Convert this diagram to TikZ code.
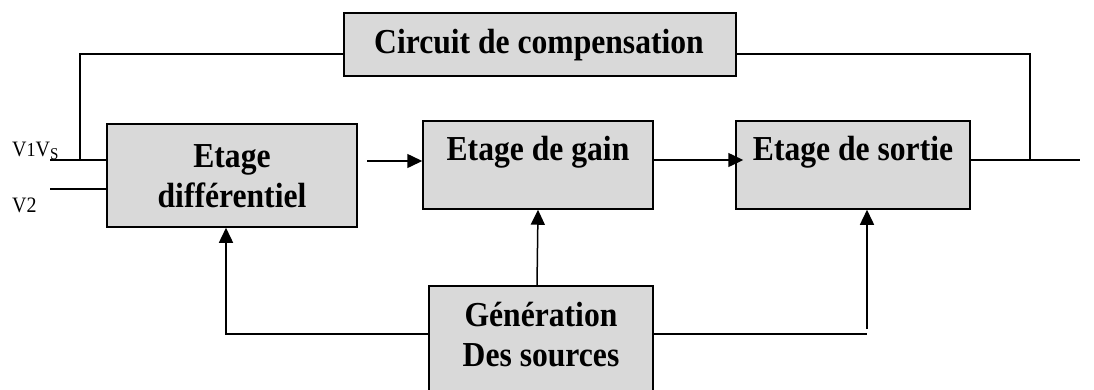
\documentclass[tikz,border=0pt]{standalone}
\usepackage{fontspec}
\usepackage{graphicx}
\setmainfont{Liberation Serif}
\usetikzlibrary{arrows.meta}
\definecolor{boxgray}{HTML}{D9D9D9}
\newcommand\tallt[1]{\scalebox{1.02}[1.13]{#1}}
\begin{document}
\begin{tikzpicture}[x=1pt,y=-1pt,
  blk/.style={draw, line width=1.5pt, fill=boxgray, inner sep=0pt},
  lbl/.style={font=\fontsize{31}{40}\selectfont\bfseries, align=center, inner sep=0pt},
  vlbl/.style={font=\fontsize{20}{22}\selectfont, inner sep=0pt, anchor=base west},
  wire/.style={line width=1.5pt},
  arr/.style={wire, -{Triangle[length=15pt,width=14pt]}}]
\useasboundingbox (0,0) rectangle (1094,389);
% blocks
\node[blk, minimum width=392pt, minimum height=63pt] (comp) at (540,44.5) {};
\node[lbl, anchor=base] (compt) at (539,53) {\tallt{Circuit de compensation}};
\node[blk, minimum width=250pt, minimum height=103pt] (diff) at (232,175.5) {};
\node[lbl] (difft) at (232,176) {\tallt{Etage}\\\tallt{différentiel}};
\node[blk, minimum width=230pt, minimum height=88pt] (gain) at (538,165) {};
\node[lbl, anchor=base] (gaint) at (538,160) {\tallt{Etage de gain}};
\node[blk, minimum width=234pt, minimum height=88pt] (sortie) at (853,165) {};
\node[lbl, anchor=base] (sortiet) at (853,160) {\tallt{Etage de sortie}};
\node[blk, minimum width=224pt, minimum height=108pt] (gen) at (541,340) {};
\node[lbl] (gent) at (541,335) {\tallt{Génération}\\\tallt{Des sources}};
% labels
\node[vlbl] (v1) at (12,156) {\scalebox{1}[1.1]{V{\fontsize{18}{20}\selectfont 1}V\raisebox{-3pt}{\fontsize{15}{16}\selectfont S}}};
\node[vlbl] (v2) at (12,212) {\scalebox{1}[1.1]{V2}};
% coordinates
\coordinate (in1) at (50,160);
\coordinate (in2) at (50,189);
\coordinate (lt) at (80,54);
\coordinate (lb) at (80,160);
\coordinate (rt) at (1030,54);
\coordinate (rb) at (1030,160);
\coordinate (out) at (1080,160);
\coordinate (a1) at (367,161);
\coordinate (gl) at (226,334);
\coordinate (gr) at (867,334);
\coordinate (gru) at (867,329);
% wires
\draw[wire] (in1) -- (in1 -| diff.west);
\draw[wire] (in2) -- (in2 -| diff.west);
\draw[wire] (lb) -- (lt) -- (lt -| comp.west);
\draw[wire] (rt -| comp.east) -- (rt) -- (rb);
\draw[wire] (sortie.east |- out) -- (out);
\draw[arr] (a1) -- (a1 -| gain.west);
\draw[arr] (gain.east |- 0,160) -- ([xshift=8pt]sortie.west |- 0,160);
\draw[arr] (gen.north -| 537,0) -- (gain.south -| 538,0);
\draw[arr] (gen.west |- gl) -- (gl) -- (gl |- diff.south);
\draw[wire] (gen.east |- gr) -- (gr);
\draw[arr] (gru) -- (gru |- sortie.south);
\end{tikzpicture}
\end{document}
